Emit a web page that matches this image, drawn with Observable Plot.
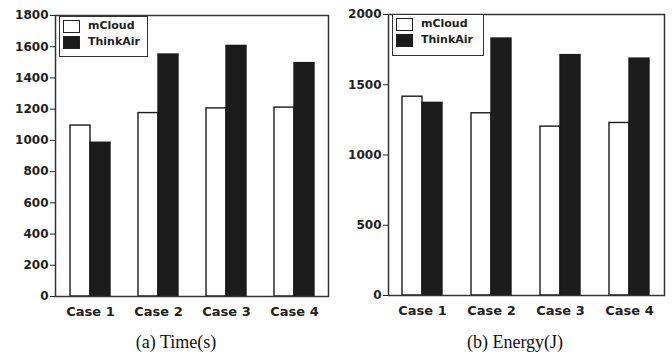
<!DOCTYPE html>
<html><head><meta charset="utf-8">
<script src="https://cdn.jsdelivr.net/npm/d3@7"></script>
<script src="https://cdn.jsdelivr.net/npm/@observablehq/plot@0.6"></script>
<style>
body{margin:0;background:#fff;}
#wrap{position:relative;width:672px;height:357px;overflow:hidden;background:#fff;}
.panel{position:absolute;top:0;}
.legend{position:absolute;border:1.5px solid #333;background:#fff;box-sizing:border-box;font:bold 11px "DejaVu Sans",sans-serif;color:#222;}
.legend .sw{position:absolute;left:3px;width:17px;height:13px;border:1.3px solid #222;box-sizing:border-box;}
.legend .lb{position:absolute;left:28px;line-height:14px;white-space:nowrap;}
.caption{position:absolute;width:200px;text-align:center;font:18px "Liberation Serif",serif;line-height:20px;color:#111;}
</style></head>
<body><div id="wrap"></div>
<script>
const cases = ["Case 1", "Case 2", "Case 3", "Case 4"];
const series = ["mCloud", "ThinkAir"];
const seriesColors = ["#ffffff", "#1c1c1c"];
const timeMCloud = [1095, 1175, 1205, 1210];
const timeThinkAir = [985, 1550, 1605, 1495];
const energyMCloud = [1415, 1297, 1202, 1228];
const energyThinkAir = [1371, 1829, 1711, 1686];
const timeTicks = [0, 200, 400, 600, 800, 1000, 1200, 1400, 1600, 1800];
const energyTicks = [0, 500, 1000, 1500, 2000];
const captions = ["(a) Time(s)", "(b) Energy(J)"];

function rowsOf(a, b) {
  return cases.flatMap((c, i) => [
    {case: c, series: series[0], value: a[i]},
    {case: c, series: series[1], value: b[i]}
  ]);
}

function chart(rows, ticks, o) {
  return Plot.plot({
    width: 336, height: 325,
    marginLeft: o.ml, marginRight: 8, marginTop: o.mt, marginBottom: o.mb,
    style: {fontFamily: "DejaVu Sans", fontWeight: "bold", color: "#222", background: "transparent", overflow: "visible"},
    x: {domain: cases, paddingInner: o.pi, paddingOuter: o.pi / 2, label: null},
    y: {domain: [0, ticks[ticks.length - 1]], label: null},
    color: {domain: series, range: seriesColors},
    marks: [
      Plot.barY(rows.filter(d => d.series === series[0]), {x: "case", y: "value", fill: "series", stroke: "#1a1a1a", strokeWidth: 1.4, insetRight: 20}),
      Plot.barY(rows.filter(d => d.series === series[1]), {x: "case", y: "value", fill: "series", stroke: "#1a1a1a", strokeWidth: 1.4, insetLeft: 20}),
      Plot.frame({stroke: "#333", strokeWidth: 1.5}),
      Plot.axisY({ticks, tickFormat: d3.format("d"), tickSize: 5, tickPadding: 2, fontSize: 12, fontWeight: "bold", label: null}),
      Plot.axisX({tickSize: 0, tickPadding: 10, fontSize: 13, fontWeight: "bold", label: null})
    ]
  });
}

const wrap = d3.select("#wrap");
const panels = [
  {rows: rowsOf(timeMCloud, timeThinkAir), ticks: timeTicks, o: {ml: 55, mt: 15, mb: 29, pi: 0.414}, left: 0, leg: {l: 59, t: 16, w: 89, h: 41}, cap: 176},
  {rows: rowsOf(energyMCloud, energyThinkAir), ticks: energyTicks, o: {ml: 52, mt: 14, mb: 30, pi: 0.42}, left: 336, leg: {l: 392, t: 14, w: 92, h: 42}, cap: 515}
];

panels.forEach((p, k) => {
  const div = wrap.append("div").attr("class", "panel").style("left", p.left + "px");
  div.node().appendChild(chart(p.rows, p.ticks, p.o));
  const lg = wrap.append("div").attr("class", "legend")
    .style("left", p.leg.l + "px").style("top", p.leg.t + "px")
    .style("width", p.leg.w + "px").style("height", p.leg.h + "px");
  series.forEach((s, i) => {
    lg.append("div").attr("class", "sw").style("top", (3 + i * 16) + "px").style("background", seriesColors[i]);
    lg.append("div").attr("class", "lb").style("top", (2 + i * 16) + "px").text(s);
  });
  wrap.append("div").attr("class", "caption")
    .style("left", (p.cap - 100) + "px").style("top", "332px").text(captions[k]);
});
</script>
</body></html>
